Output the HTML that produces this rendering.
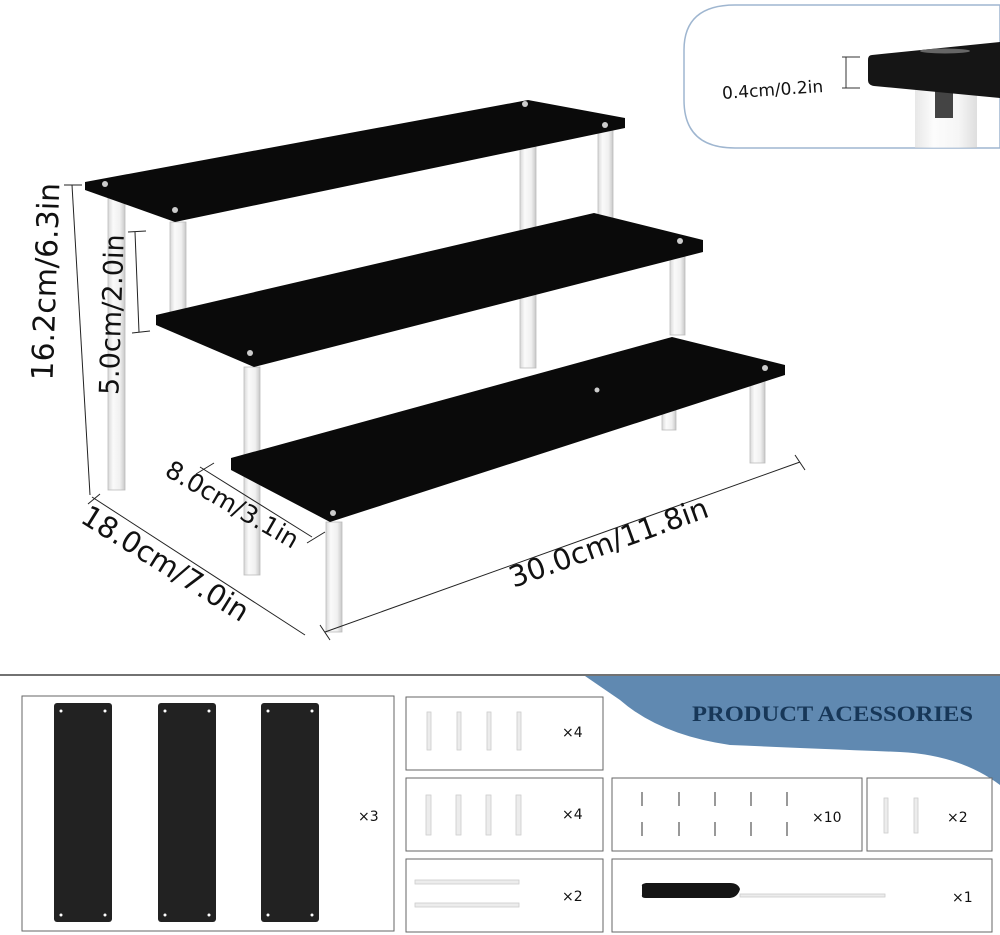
<!DOCTYPE html>
<html><head><meta charset="utf-8"><style>
html,body{margin:0;padding:0;background:#fff;}
svg{display:block;}
text{font-family:"DejaVu Sans","Liberation Sans",sans-serif;fill:#111;}
</style></head><body>
<svg width="1000" height="935" viewBox="0 0 1000 935" xmlns="http://www.w3.org/2000/svg">
<defs>
<linearGradient id="rod" x1="0" x2="1"><stop offset="0" stop-color="#d8d8d8"/><stop offset="0.3" stop-color="#fafafa"/><stop offset="0.7" stop-color="#f0f0f0"/><stop offset="1" stop-color="#c8c8c8"/></linearGradient>
</defs>
<!-- inset -->
<path d="M735 5 H1000 V148 H735 Q684 148 684 100 V50 Q684 5 735 5 Z" fill="#fff" stroke="#9fb6d0" stroke-width="1.5"/>
<rect x="915" y="88" width="62" height="60" fill="url(#rod)" opacity="0.6"/>
<rect x="935" y="90" width="18" height="28" fill="#444"/>
<path d="M872 55 Q868 55 868 60 V80 Q868 85 874 86 L1000 98 V42 Z" fill="#151515"/>
<ellipse cx="945" cy="51" rx="25" ry="2.5" fill="#666"/>
<line x1="846" y1="57" x2="846" y2="88" stroke="#333"/>
<line x1="842" y1="57" x2="860" y2="57" stroke="#333"/><line x1="842" y1="88" x2="860" y2="88" stroke="#333"/>
<text x="722" y="95" font-size="17" transform="rotate(-4 780 90)">0.4cm/0.2in</text>

<!-- rods -->
<g fill="url(#rod)" stroke="#bbb" stroke-width="0.8">
<rect x="108" y="192" width="17" height="298"/>
<rect x="170" y="222" width="16" height="98"/>
<rect x="520" y="140" width="16" height="228"/>
<rect x="598" y="130" width="15" height="88"/>
<rect x="244" y="367" width="16" height="95"/>
<rect x="670" y="255" width="15" height="80"/>
<rect x="244" y="470" width="16" height="105"/>
<rect x="326" y="522" width="16" height="110"/>
<rect x="750" y="378" width="15" height="85"/>
<rect x="662" y="380" width="14" height="50"/>
</g>
<!-- shelves -->
<polygon points="85,182 528,100 625,118 625,128 175,222 85,190" fill="#0a0a0a"/>
<polygon points="156,315 594,213 703,240 703,252 254,367 156,325" fill="#0a0a0a"/>
<polygon points="231,458 672,337 785,365 785,375 330,522 231,470" fill="#0a0a0a"/>
<g fill="#ccc">
<circle cx="105" cy="184" r="3"/><circle cx="175" cy="210" r="3"/><circle cx="525" cy="104" r="3"/><circle cx="605" cy="125" r="3"/>
<circle cx="250" cy="353" r="3"/><circle cx="680" cy="241" r="3"/>
<circle cx="333" cy="513" r="3"/><circle cx="765" cy="368" r="3"/><circle cx="597" cy="390" r="2.5"/>
</g>
<!-- dimension lines -->
<g stroke="#222" stroke-width="1" fill="none">
<line x1="72" y1="185" x2="90" y2="495"/><line x1="64" y1="185" x2="82" y2="185"/>
<line x1="135" y1="232" x2="139" y2="332"/><line x1="128" y1="232" x2="146" y2="231"/><line x1="132" y1="333" x2="150" y2="331"/>
<line x1="200" y1="467" x2="312" y2="537"/><line x1="196" y1="474" x2="214" y2="463"/><line x1="307" y1="543" x2="325" y2="532"/>
<line x1="92" y1="497" x2="305" y2="635"/><line x1="88" y1="504" x2="100" y2="494"/>
<line x1="325" y1="632" x2="800" y2="462"/><line x1="320" y1="625" x2="330" y2="640"/><line x1="795" y1="455" x2="805" y2="470"/>
</g>
<text font-size="30" text-anchor="middle" transform="translate(56,282) rotate(-88)">16.2cm/6.3in</text>
<text font-size="27" text-anchor="middle" transform="translate(121,315) rotate(-88)">5.0cm/2.0in</text>
<text font-size="25" text-anchor="middle" transform="translate(228,512) rotate(30)">8.0cm/3.1in</text>
<text font-size="29" text-anchor="middle" transform="translate(160,572) rotate(32)">18.0cm/7.0in</text>
<text font-size="29" text-anchor="middle" transform="translate(612,552) rotate(-20)">30.0cm/11.8in</text>

<!-- bottom section -->
<line x1="0" y1="675" x2="1000" y2="675" stroke="#444" stroke-width="1.5"/>
<path d="M585 676 H1000 V785 Q960 755 900 752 Q800 748 730 745 Q660 735 620 700 Z" fill="#6089b1"/>
<text x="692" y="721" font-size="22" font-weight="bold" textLength="281" lengthAdjust="spacingAndGlyphs" style="font-family:'Liberation Serif',serif;fill:#173758">PRODUCT ACESSORIES</text>
<g fill="#fff" stroke="#666" stroke-width="1">
<rect x="22" y="696" width="372" height="235" fill="none"/>
<rect x="406" y="697" width="197" height="73"/>
<rect x="406" y="778" width="197" height="73"/>
<rect x="406" y="859" width="197" height="73"/>
<rect x="612" y="778" width="250" height="73"/>
<rect x="867" y="778" width="125" height="73"/>
<rect x="612" y="859" width="380" height="73"/>
</g>
<g fill="#222">
<rect x="54" y="703" width="58" height="219" rx="3"/>
<rect x="158" y="703" width="58" height="219" rx="3"/>
<rect x="261" y="703" width="58" height="219" rx="3"/>
</g>
<g fill="#fff">
<circle cx="61" cy="711" r="1.5"/><circle cx="105" cy="711" r="1.5"/><circle cx="61" cy="915" r="1.5"/><circle cx="105" cy="915" r="1.5"/>
<circle cx="165" cy="711" r="1.5"/><circle cx="209" cy="711" r="1.5"/><circle cx="165" cy="915" r="1.5"/><circle cx="209" cy="915" r="1.5"/>
<circle cx="268" cy="711" r="1.5"/><circle cx="312" cy="711" r="1.5"/><circle cx="268" cy="915" r="1.5"/><circle cx="312" cy="915" r="1.5"/>
</g>
<g fill="#ececec" stroke="#ccc" stroke-width="0.8">
<rect x="427" y="712" width="4" height="38"/><rect x="457" y="712" width="4" height="38"/><rect x="487" y="712" width="4" height="38"/><rect x="517" y="712" width="4" height="38"/>
<rect x="426" y="795" width="5" height="40"/><rect x="456" y="795" width="5" height="40"/><rect x="486" y="795" width="5" height="40"/><rect x="516" y="795" width="5" height="40"/>
<rect x="415" y="880" width="104" height="4"/><rect x="415" y="903" width="104" height="4"/>
<rect x="740" y="894" width="145" height="3"/>
<rect x="884" y="798" width="4" height="35"/><rect x="914" y="798" width="4" height="35"/>
</g>
<g stroke="#999" stroke-width="2">
<line x1="642" y1="792" x2="642" y2="806"/><line x1="679" y1="792" x2="679" y2="806"/><line x1="715" y1="792" x2="715" y2="806"/><line x1="751" y1="792" x2="751" y2="806"/><line x1="787" y1="792" x2="787" y2="806"/>
<line x1="642" y1="822" x2="642" y2="836"/><line x1="679" y1="822" x2="679" y2="836"/><line x1="715" y1="822" x2="715" y2="836"/><line x1="751" y1="822" x2="751" y2="836"/><line x1="787" y1="822" x2="787" y2="836"/>
</g>
<path d="M642 886 Q641 884 646 883 H730 Q738 883 740 889 Q738 897 730 898 H646 Q641 898 642 895 Z" fill="#151515"/>
<text x="562" y="737" font-size="14">×4</text>
<text x="562" y="819" font-size="14">×4</text>
<text x="562" y="901" font-size="14">×2</text>
<text x="358" y="821" font-size="14">×3</text>
<text x="812" y="822" font-size="14">×10</text>
<text x="947" y="822" font-size="14">×2</text>
<text x="952" y="902" font-size="14">×1</text>
</svg>
</body></html>
